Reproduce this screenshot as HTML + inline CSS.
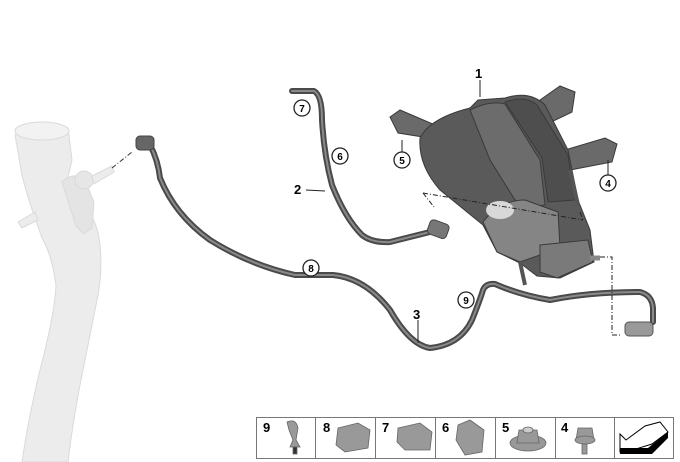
<!DOCTYPE html>
<html><head><style>
html,body{margin:0;padding:0;background:#fff;}
svg{display:block;}
text{font-family:"Liberation Sans",Arial,sans-serif;font-weight:bold;}
</style></head><body>
<svg width="680" height="462" viewBox="0 0 680 462" xmlns="http://www.w3.org/2000/svg">
<!-- filler neck -->
<g fill="#ececec" stroke="#dadada" stroke-width="1">
<path d="M15,135 Q40,118 68,128 L72,160 Q68,178 64,188 L84,205 Q98,222 100,245 Q103,275 96,305 L84,365 Q74,412 68,462 L22,462 Q28,420 40,370 Q55,312 56,285 Q52,255 42,238 L34,215 Q26,192 22,175 Z"/>
<ellipse cx="42" cy="131" rx="27" ry="9" fill="#f2f2f2"/>
<path d="M62,182 Q72,172 84,178 L94,202 L92,228 L84,234 L76,226 Z" fill="#e4e4e4"/>
<circle cx="84" cy="180" r="9" fill="#e6e6e6"/>
<path d="M92,176 L112,166 L114,172 L94,184 Z"/>
<path d="M18,222 L35,212 L38,220 L22,228 Z"/>
</g>
<path d="M112,168 L132,152" stroke="#333" stroke-width="1" stroke-dasharray="5,2,1,2" fill="none"/>
<!-- main hose 8/3/9 -->
<g fill="none" stroke-linecap="round" stroke-linejoin="round">
<path d="M150,145 Q158,160 160,178 Q175,215 210,240 Q250,265 295,275 L333,275 Q365,278 390,310 Q410,345 430,348 Q460,345 472,320 Q480,300 483,290 Q486,283 495,284 Q520,295 550,300 Q590,292 640,292 Q652,295 653,308 L653,322" stroke="#4a4a4a" stroke-width="6"/>
<path d="M150,145 Q158,160 160,178 Q175,215 210,240 Q250,265 295,275 L333,275 Q365,278 390,310 Q410,345 430,348 Q460,345 472,320 Q480,300 483,290 Q486,283 495,284 Q520,295 550,300 Q590,292 640,292 Q652,295 653,308 L653,322" stroke="#8a8a8a" stroke-width="2"/>
<path d="M292,91 L314,91 Q322,95 322,120 Q324,155 332,185 Q345,218 362,235 Q372,243 390,242 L430,232" stroke="#4a4a4a" stroke-width="6"/>
<path d="M292,91 L314,91 Q322,95 322,120 Q324,155 332,185 Q345,218 362,235 Q372,243 390,242 L430,232" stroke="#8a8a8a" stroke-width="2"/>
</g>
<!-- connectors -->
<rect x="136" y="136" width="18" height="14" rx="4" fill="#666" stroke="#444"/>
<rect x="428" y="222" width="20" height="15" rx="4" fill="#777" stroke="#444" transform="rotate(20 439 230)"/>
<rect x="625" y="322" width="28" height="14" rx="4" fill="#999" stroke="#555"/>
<!-- canister -->
<g stroke="#3a3a3a" stroke-width="1">
<path d="M390,117 L400,110 L442,128 L442,140 L398,133 Z" fill="#6a6a6a"/>
<path d="M540,100 L560,86 L575,92 L572,112 L545,125 Z" fill="#6a6a6a"/>
<path d="M565,150 L605,138 L617,144 L612,162 L570,170 Z" fill="#6a6a6a"/>
<path d="M420,138 Q430,118 470,108 L478,100 L505,98 Q530,90 545,105 L568,150 L578,200 L590,230 L594,262 L560,278 L537,276 L520,263 L497,252 L483,225 L440,190 Q418,165 420,138 Z" fill="#5a5a5a"/>
<path d="M470,110 Q490,100 505,104 L540,160 L545,205 L520,208 L490,160 Z" fill="#6c6c6c"/>
<path d="M505,102 Q525,95 537,105 L568,155 L575,200 L548,202 L542,158 Z" fill="#4e4e4e"/>
<path d="M483,222 Q500,200 525,200 L558,212 L560,248 L520,262 L497,252 Z" fill="#858585"/>
<path d="M540,245 L588,240 L593,262 L557,278 L540,272 Z" fill="#7a7a7a"/>
<ellipse cx="500" cy="210" rx="14" ry="9" fill="#d8d8d8" stroke="none"/>
<path d="M520,262 L525,285" stroke="#555" stroke-width="4"/>
<path d="M590,258 L600,258" stroke="#888" stroke-width="5"/>
<path d="M570,170 L578,205" stroke="#555" stroke-width="4"/>
</g>
<!-- dash-dot lines -->
<g stroke="#222" stroke-width="1" fill="none" stroke-dasharray="5,2,1,2">
<path d="M423,193 L583,220"/>
<path d="M423,193 L434,207"/>
<path d="M580,212 L583,220"/>
<path d="M600,257 L612,257 L612,335 L622,335"/>
</g>
<g stroke="#222" stroke-width="1">
<line x1="480" y1="80" x2="480" y2="97"/>
<line x1="306" y1="190" x2="325" y2="191"/>
<line x1="402" y1="140" x2="402" y2="152"/>
<line x1="608" y1="160" x2="608" y2="175"/>
<line x1="418" y1="320" x2="418" y2="343"/>
</g>
<g font-size="13" fill="#000">
<text x="475" y="78">1</text>
<text x="294" y="194">2</text>
<text x="413" y="319">3</text>
</g>
<g fill="#fff" stroke="#222" stroke-width="1.3">
<circle cx="302" cy="108" r="8"/><circle cx="340" cy="156" r="8"/>
<circle cx="402" cy="160" r="8"/><circle cx="608" cy="183" r="8"/>
<circle cx="311" cy="268" r="8"/><circle cx="466" cy="300" r="8"/>
</g>
<g font-size="10" fill="#000" text-anchor="middle">
<text x="302" y="112">7</text><text x="340" y="160">6</text>
<text x="402" y="164">5</text><text x="608" y="187">4</text>
<text x="311" y="272">8</text><text x="466" y="304">9</text>
</g>
<!-- legend -->
<g stroke="#777" stroke-width="1" fill="#fff">
<rect x="256.5" y="417.5" width="417" height="41"/>
<line x1="315.5" y1="417" x2="315.5" y2="459"/>
<line x1="375.5" y1="417" x2="375.5" y2="459"/>
<line x1="435.5" y1="417" x2="435.5" y2="459"/>
<line x1="495.5" y1="417" x2="495.5" y2="459"/>
<line x1="555.5" y1="417" x2="555.5" y2="459"/>
<line x1="614.5" y1="417" x2="614.5" y2="459"/>
</g>
<g font-size="13" fill="#000">
<text x="263" y="432">9</text><text x="323" y="432">8</text>
<text x="382" y="432">7</text><text x="442" y="432">6</text>
<text x="502" y="432">5</text><text x="561" y="432">4</text>
</g>
<g fill="#999" stroke="#666" stroke-width="0.8">
<path d="M287,422 Q296,418 298,428 L296,440 L300,447 L290,447 L293,440 L289,430 Z"/>
<rect x="293" y="447" width="4" height="7" fill="#333"/>
<path d="M338,428 L358,423 L370,430 L368,448 L345,452 L336,445 Z"/>
<path d="M398,428 L420,423 L432,432 L430,450 L405,450 L397,442 Z"/>
<path d="M458,425 L470,420 L484,430 L482,452 L465,455 L456,440 Z"/>
<ellipse cx="528" cy="443" rx="18" ry="8"/>
<path d="M519,430 L537,430 L539,443 L517,443 Z"/>
<ellipse cx="528" cy="430" rx="5" ry="3" fill="#ccc"/>
<path d="M578,428 L592,428 L594,440 L576,440 Z"/>
<ellipse cx="585" cy="440" rx="10" ry="4"/>
<rect x="582" y="444" width="5" height="10"/>
</g>
<g fill="none" stroke="#000" stroke-width="1">
<path d="M620,434 L626,440 L645,426 L660,422 L668,432 L652,444 L626,452 L620,452 Z"/>
</g>
<path d="M620,448 L648,448 L668,432 L668,438 L652,454 L620,454 Z" fill="#000"/>
</svg>
</body></html>
